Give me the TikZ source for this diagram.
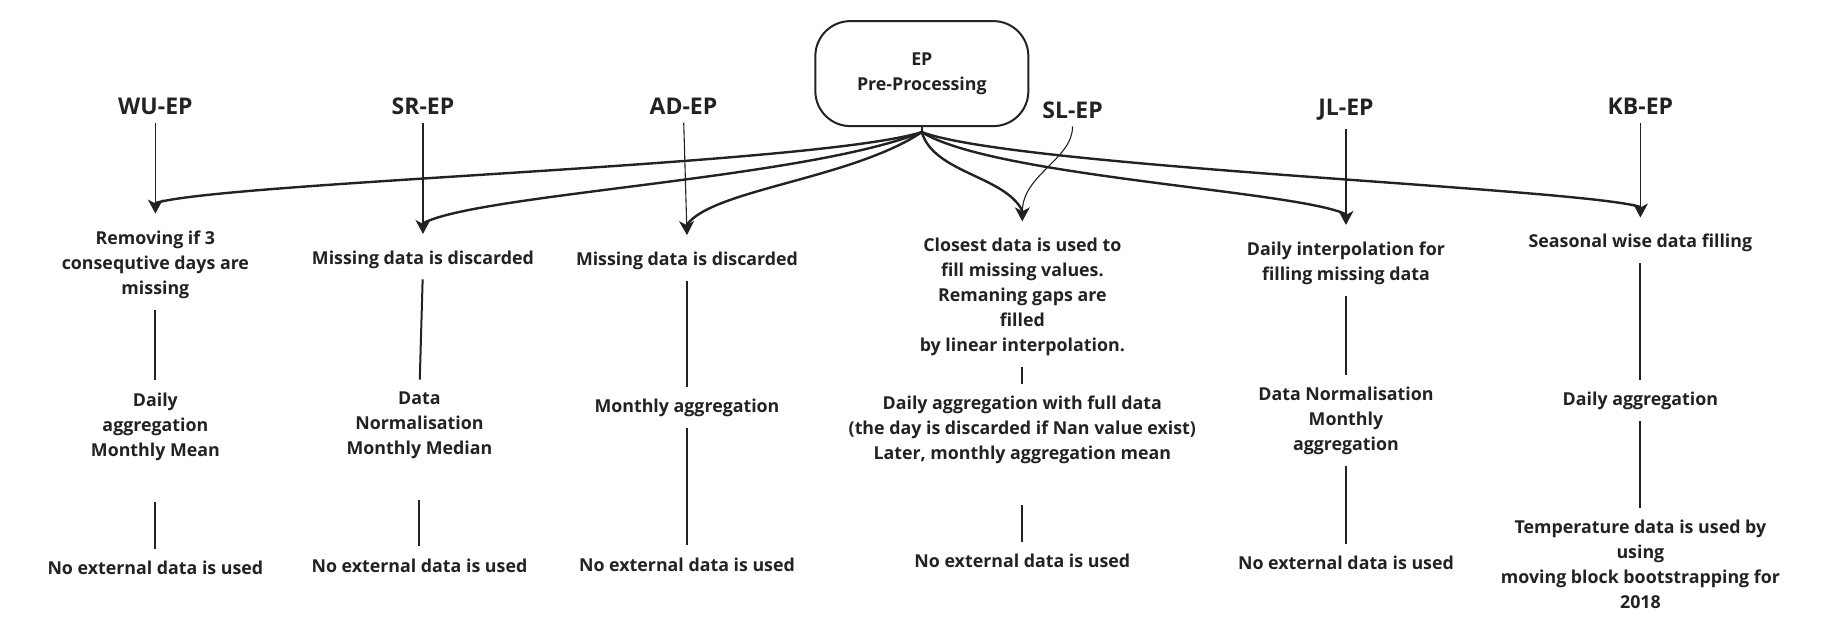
\documentclass[tikz,border=0pt]{standalone}
\usepackage{fontspec}
\setmainfont{Open Sans}
\usetikzlibrary{arrows.meta}
\definecolor{ink}{HTML}{222222}
\begin{document}
\begin{tikzpicture}[x=1.1684pt,y=-1.1684pt,
  txt/.style={font=\bfseries\fontsize{17.8}{25}\selectfont, align=center, inner sep=0pt, text=ink},
  hdr/.style={font=\bfseries\fontsize{23}{28}\selectfont, inner sep=0pt, text=ink},
  boxst/.style={draw=ink, line width=2pt, rounded corners=35pt, minimum width=213pt, minimum height=105pt,
     align=center, font=\bfseries\fontsize{17.8}{25.5}\selectfont, text=ink, inner sep=0pt},
  curve/.style={draw=ink, line width=2.4pt, line cap=round},
  thin/.style={draw=ink, line width=1.1pt, -{Stealth[length=14pt,width=15pt,inset=4pt]}, shorten <=8pt},
  link/.style={draw=ink, line width=2pt, shorten <=11pt, shorten >=12pt},
  farlink/.style={link, shorten <=41pt}]
\useasboundingbox (0,0) rectangle (1568,546);

\node[boxst] (box) at (789,63) {EP\\Pre-Processing};

% headers
\node[hdr] (hWU) at (133,91) {WU-EP};
\node[hdr] (hSR) at (362,91) {SR-EP};
\node[hdr] (hAD) at (585,91) {AD-EP};
\node[hdr] (hSL) at (918,94) {SL-EP};
\node[hdr] (hJL) at (1152,94) {JL-EP};
\node[hdr] (hKB) at (1404,91) {KB-EP};

% WU column
\node[txt] (tWU1) at (133,227) {Removing if 3\\consequtive days are\\missing};
\node[txt] (tWU2) at (133,365) {Daily\\aggregation\\Monthly Mean};
\node[txt] (tWU3) at (133,486) {No external data is used};
% SR column
\node[txt] (tSR1) at (362,222) {Missing data is discarded};
\node[txt] (tSR2) at (359,364) {Data\\Normalisation\\Monthly Median};
\node[txt] (tSR3) at (359,484) {No external data is used};
% AD column
\node[txt] (tAD1) at (588,223) {Missing data is discarded};
\node[txt] (tAD2) at (588,349) {Monthly aggregation};
\node[txt] (tAD3) at (588,483) {No external data is used};
% SL column
\node[txt] (tSL1) at (875,254) {Closest data is used to\\fill missing values.\\Remaning gaps are\\filled\\by linear interpolation.};
\node[txt] (tSL2) at (875,368) {Daily aggregation with full data\\(the day is discarded if Nan value exist)\\Later, monthly aggregation mean};
\node[txt] (tSL3) at (875,480) {No external data is used};
% JL column
\node[txt] (tJL1) at (1152,225) {Daily interpolation for\\filling missing data};
\node[txt] (tJL2) at (1152,360) {Data Normalisation\\Monthly\\aggregation};
\node[txt] (tJL3) at (1152,482) {No external data is used};
% KB column
\node[txt] (tKB1) at (1404,208) {Seasonal wise data filling};
\node[txt] (tKB2) at (1404,343) {Daily aggregation};
\node[txt] (tKB3) at (1404,483) {Temperature data is used by\\using\\moving block bootstrapping for\\2018};

% arrow tip points (e) and backs of the heads (b)
\path (tWU1.north) ++(0,-15) coordinate (eWU) ++(0,-9) coordinate (bWU);
\path (tSR1.north) ++(0,-14) coordinate (eSR) ++(0,-9) coordinate (bSR);
\path (tAD1.north) ++(0,-14) coordinate (eAD) ++(0,-9) coordinate (bAD);
\path (tSL1.north) ++(0,-14) coordinate (eSL) ++(0,-9) coordinate (bSL);
\path (tJL1.north) ++(0,-14) coordinate (eJL) ++(0,-9) coordinate (bJL);
\path (tKB1.north) ++(0,-14) coordinate (eKB) ++(0,-9) coordinate (bKB);
\coordinate (root) at ([yshift=-5pt]box.south);

% thick curved connectors from the box
\draw[curve] (box.south) -- (root);
\draw[curve] (root) .. controls +(-90,28) and +(60,-18) .. (bWU);
\draw[curve] (root) .. controls +(-100,40) and +(45,-25) .. (bSR);
\draw[curve] (root) .. controls +(-60,40) and +(22,-30) .. (bAD);
\draw[curve] (root) .. controls +(10,35) and +(-15,-30) .. (bSL);
\draw[curve] (root) .. controls +(60,38) and +(-40,-20) .. (bJL);
\draw[curve] (root) .. controls +(80,30) and +(-50,-16) .. (bKB);

% thin header arrows (carry the heads)
\draw[thin] (hWU.south) -- (eWU);
\draw[thin] (hSR.south) -- (eSR);
\draw[thin] (hAD.south) -- (eAD);
\draw[thin] (hSL.south) .. controls +(0,35) and +(0,-40) .. (eSL);
\draw[thin] (hJL.south) -- (eJL);
\draw[thin] (hKB.south) -- (eKB);

% vertical links
\draw[link] (tWU1.south) -- (tWU2.north);
\draw[farlink] (tWU2.south) -- (tWU3.north);
\draw[link] (tSR1.south) -- (tSR2.north);
\draw[farlink] (tSR2.south) -- (tSR3.north);
\draw[link] (tAD1.south) -- (tAD2.north);
\draw[link] (tAD2.south) -- (tAD3.north);
\draw[link] (tSL1.south) -- (tSL2.north);
\draw[farlink] (tSL2.south) -- (tSL3.north);
\draw[link] (tJL1.south) -- (tJL2.north);
\draw[link] (tJL2.south) -- (tJL3.north);
\draw[link] (tKB1.south) -- (tKB2.north);
\draw[link] (tKB2.south) -- (tKB3.north);
\end{tikzpicture}
\end{document}
